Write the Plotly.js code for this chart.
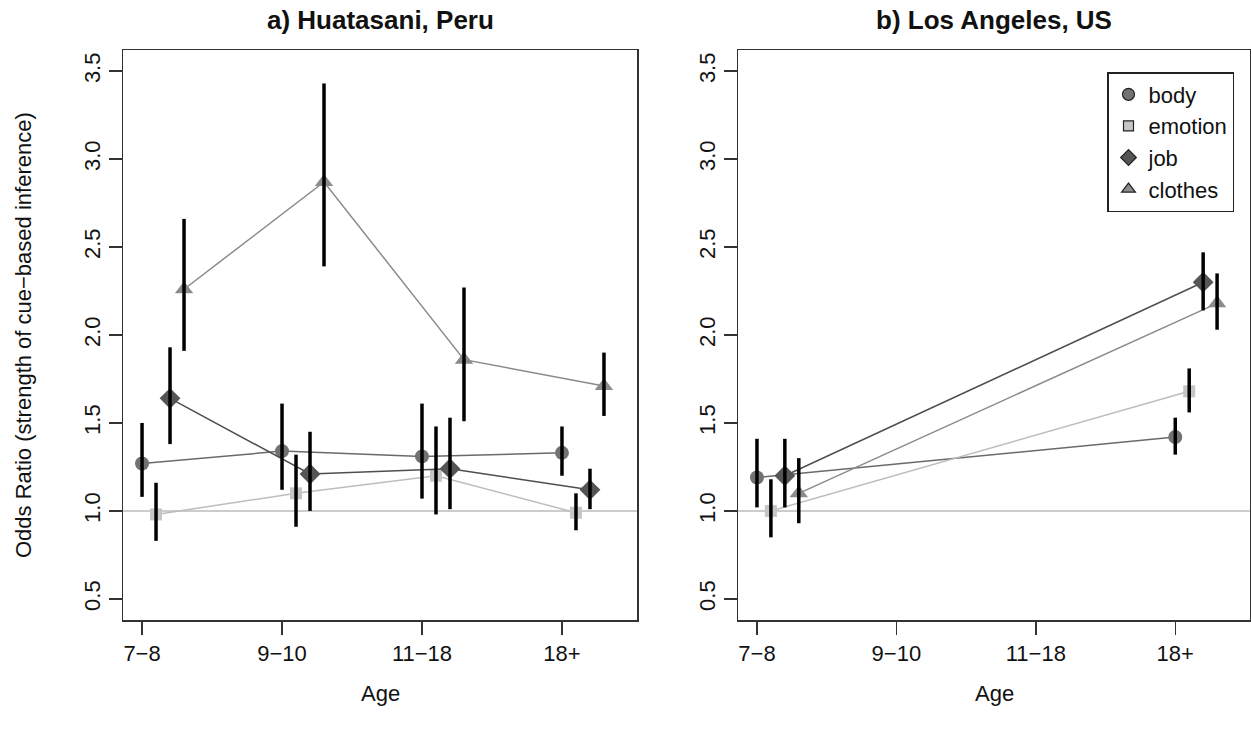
<!DOCTYPE html>
<html><head><meta charset="utf-8">
<script src="https://cdn.plot.ly/plotly-3.0.1.min.js"></script>
<style>html,body{margin:0;padding:0;background:#fff;} #chart{width:1251px;height:729px;}</style>
</head><body><div id="chart"></div>
<script>
// ---- data ----
const ageLabels = ['7\u22128', '9\u221210', '11\u221218', '18+'];
const yTickVals = [0.5, 1.0, 1.5, 2.0, 2.5, 3.0, 3.5];
const yTickText = ['0.5', '1.0', '1.5', '2.0', '2.5', '3.0', '3.5'];
const seriesNames = ['body', 'emotion', 'job', 'clothes'];

// a) Huatasani, Peru  (age groups 1..4)
const peruAge = [1, 2, 3, 4];
const peruBody = [1.27, 1.34, 1.31, 1.33];
const peruBodyLo = [1.08, 1.12, 1.07, 1.20];
const peruBodyHi = [1.50, 1.61, 1.61, 1.48];
const peruEmotion = [0.98, 1.10, 1.20, 0.99];
const peruEmotionLo = [0.83, 0.91, 0.98, 0.89];
const peruEmotionHi = [1.16, 1.32, 1.48, 1.10];
const peruJob = [1.64, 1.21, 1.24, 1.12];
const peruJobLo = [1.38, 1.00, 1.01, 1.01];
const peruJobHi = [1.93, 1.45, 1.53, 1.24];
const peruClothes = [2.26, 2.87, 1.86, 1.71];
const peruClothesLo = [1.91, 2.39, 1.51, 1.54];
const peruClothesHi = [2.66, 3.43, 2.27, 1.90];

// b) Los Angeles, US  (only 7-8 and 18+)
const usAge = [1, 4];
const usBody = [1.19, 1.42];
const usBodyLo = [1.02, 1.32];
const usBodyHi = [1.41, 1.53];
const usEmotion = [1.00, 1.68];
const usEmotionLo = [0.85, 1.56];
const usEmotionHi = [1.18, 1.81];
const usJob = [1.20, 2.30];
const usJobLo = [1.02, 2.14];
const usJobHi = [1.41, 2.47];
const usClothes = [1.10, 2.18];
const usClothesLo = [0.93, 2.03];
const usClothesHi = [1.30, 2.35];

// ---- styling ----
const dodge = [0, 0.1, 0.2, 0.3];
const styles = [
  {line: '#6a6a6a', fill: '#727272', symbol: 'circle', size: 14},
  {line: '#bdbdbd', fill: '#c6c6c6', symbol: 'square', size: 12},
  {line: '#4e4e4e', fill: '#555555', symbol: 'diamond', size: 16},
  {line: '#8a8a8a', fill: '#8c8c8c', symbol: 'triangle-up', size: 16}
];
const FONT = 'Liberation Sans, Arial, Helvetica, sans-serif';

const panels = [
  {xa: 'x', ya: 'y', age: peruAge,
   vals: [peruBody, peruEmotion, peruJob, peruClothes],
   lo: [peruBodyLo, peruEmotionLo, peruJobLo, peruClothesLo],
   hi: [peruBodyHi, peruEmotionHi, peruJobHi, peruClothesHi]},
  {xa: 'x2', ya: 'y2', age: usAge,
   vals: [usBody, usEmotion, usJob, usClothes],
   lo: [usBodyLo, usEmotionLo, usJobLo, usClothesLo],
   hi: [usBodyHi, usEmotionHi, usJobHi, usClothesHi]}
];

const traces = [];
panels.forEach(p => {
  p.vals.forEach((v, s) => {
    traces.push({
      type: 'scatter', mode: 'lines+markers', xaxis: p.xa, yaxis: p.ya,
      x: p.age.map(a => a + dodge[s]), y: v, name: seriesNames[s], showlegend: false,
      line: {color: styles[s].line, width: 1.5},
      marker: {symbol: styles[s].symbol, size: styles[s].size, color: styles[s].fill, line: {width: 0}},
      hoverinfo: 'skip'
    });
  });
  p.vals.forEach((v, s) => {
    const ex = [], ey = [];
    p.age.forEach((a, i) => {
      ex.push(a + dodge[s], a + dodge[s], null);
      ey.push(p.lo[s][i], p.hi[s][i], null);
    });
    traces.push({
      type: 'scatter', mode: 'lines', xaxis: p.xa, yaxis: p.ya, x: ex, y: ey,
      showlegend: false, line: {color: '#000', width: 3.5}, hoverinfo: 'skip'
    });
  });
});
// legend entries
seriesNames.forEach((n, s) => {
  traces.push({
    type: 'scatter', mode: 'markers', x: [null], y: [null], xaxis: 'x2', yaxis: 'y2',
    name: n, showlegend: true,
    marker: {symbol: styles[s].symbol, size: s === 1 ? 10 : 12, color: styles[s].fill, line: {color: '#222', width: 1.2}}
  });
});

const W = 1251, H = 729;
const box = {l1: 123, r1: 637, l2: 738, r2: 1250, t: 50, b: 620};
function xAxis(l, r, anchor) {
  return {domain: [l / W, r / W], range: [0.864, 4.536], anchor: anchor,
    tickmode: 'array', tickvals: [1, 2, 3, 4], ticktext: ageLabels,
    ticks: 'outside', ticklen: 13, tickwidth: 1.5, tickcolor: '#333',
    showline: true, mirror: true, linecolor: '#333', linewidth: 1.5,
    showgrid: false, zeroline: false, fixedrange: true,
    tickfont: {family: FONT, size: 22, color: '#111'}};
}
function yAxis(anchor) {
  return {domain: [(H - box.b) / H, (H - box.t) / H], range: [0.38, 3.62], anchor: anchor,
    tickmode: 'array', tickvals: yTickVals, ticktext: yTickText, tickangle: -90,
    ticks: 'outside', ticklen: 13, tickwidth: 1.5, tickcolor: '#333',
    showline: true, mirror: true, linecolor: '#333', linewidth: 1.5,
    showgrid: false, zeroline: false, fixedrange: true,
    tickfont: {family: FONT, size: 22, color: '#111'}};
}

const layout = {
  width: W, height: H, margin: {l: 0, r: 0, t: 0, b: 0},
  paper_bgcolor: '#fff', plot_bgcolor: '#fff',
  font: {family: FONT, color: '#111'},
  xaxis: xAxis(box.l1, box.r1, 'y'), yaxis: yAxis('x'),
  xaxis2: xAxis(box.l2, box.r2, 'y2'), yaxis2: yAxis('x2'),
  showlegend: true,
  legend: {x: 1107 / W, y: 1 - 72 / H, xanchor: 'left', yanchor: 'top',
    bordercolor: '#222', borderwidth: 1.5, bgcolor: '#fff',
    font: {family: FONT, size: 22, color: '#111'}, itemwidth: 30, tracegroupgap: 0},
  shapes: [
    {type: 'line', xref: 'x domain', yref: 'y', x0: 0, x1: 1, y0: 1, y1: 1, layer: 'below', line: {color: '#bbbbbb', width: 1.5}},
    {type: 'line', xref: 'x2 domain', yref: 'y2', x0: 0, x1: 1, y0: 1, y1: 1, layer: 'below', line: {color: '#bbbbbb', width: 1.5}}
  ],
  annotations: [
    {text: '<b>a) Huatasani, Peru</b>', xref: 'paper', yref: 'paper', x: (box.l1 + box.r1) / 2 / W, y: 1 - 20 / H, showarrow: false, xanchor: 'center', yanchor: 'middle', font: {family: FONT, size: 26, color: '#111'}},
    {text: '<b>b) Los Angeles, US</b>', xref: 'paper', yref: 'paper', x: (box.l2 + box.r2) / 2 / W, y: 1 - 20 / H, showarrow: false, xanchor: 'center', yanchor: 'middle', font: {family: FONT, size: 26, color: '#111'}},
    {text: 'Age', xref: 'paper', yref: 'paper', x: (box.l1 + box.r1) / 2 / W, y: 1 - 693 / H, showarrow: false, xanchor: 'center', yanchor: 'middle', font: {family: FONT, size: 22, color: '#111'}},
    {text: 'Age', xref: 'paper', yref: 'paper', x: (box.l2 + box.r2) / 2 / W, y: 1 - 693 / H, showarrow: false, xanchor: 'center', yanchor: 'middle', font: {family: FONT, size: 22, color: '#111'}},
    {text: 'Odds Ratio (strength of cue\u2212based inference)', xref: 'paper', yref: 'paper', x: 24 / W, y: 1 - 335 / H, showarrow: false, textangle: -90, xanchor: 'center', yanchor: 'middle', font: {family: FONT, size: 22, color: '#111'}}
  ]
};

Plotly.newPlot('chart', traces, layout, {staticPlot: true, displayModeBar: false});
</script>
</body></html>
